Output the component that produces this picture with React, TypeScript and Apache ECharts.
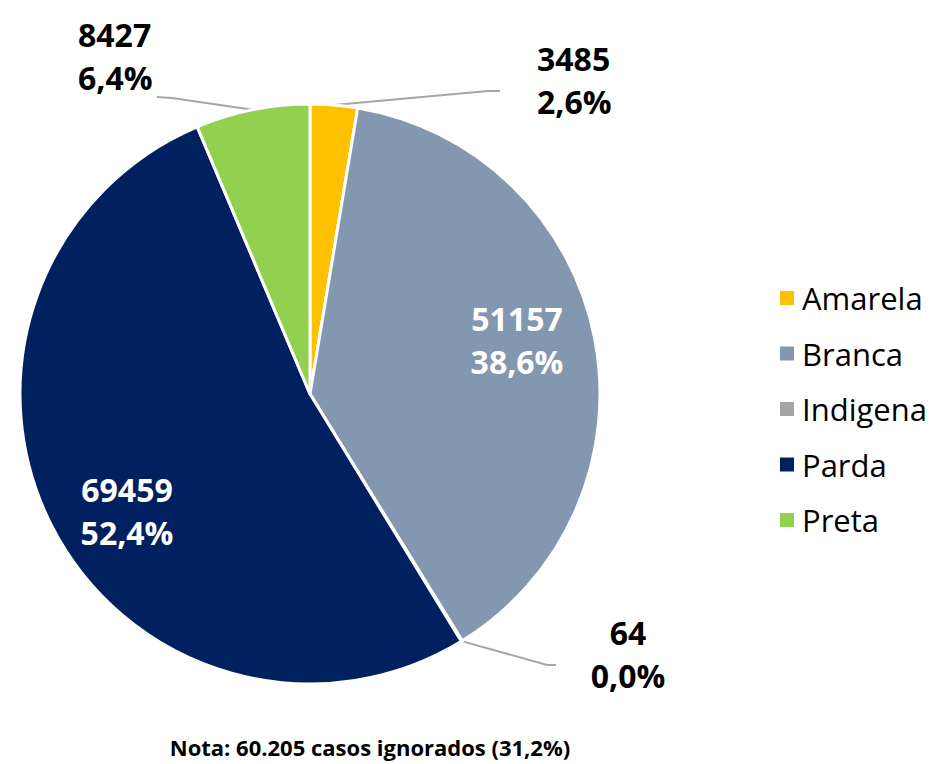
import React, { useEffect, useRef } from "react";
import * as echarts from "echarts";

const categories = ["Amarela", "Branca", "Indigena", "Parda", "Preta"];
const values = [3485, 51157, 64, 69459, 8427];
const colors = ["#FFC000", "#8497B0", "#A5A5A5", "#002060", "#92D050"];
const insideLabels = ["Branca", "Parda"];
const noteText = "Nota: 60.205 casos ignorados (31,2%)";

// label anchor positions and leader-line bends (layout only)
const labelPos: Record<string, { x: number; y: number; align: string; bend?: number[]; end?: number[] }> = {
  Amarela: { x: 537, y: 80, align: "left", bend: [488, 91], end: [500, 91] },
  Branca: { x: 517, y: 340, align: "center" },
  Indigena: { x: 628, y: 654, align: "center", bend: [547, 665], end: [556, 665] },
  Parda: { x: 127, y: 511, align: "center" },
  Preta: { x: 78, y: 56, align: "left", bend: [172, 98], end: [157, 97] },
};

const FONT = "'Open Sans', 'Liberation Sans', sans-serif";

export default function App() {
  const ref = useRef<HTMLDivElement>(null);
  useEffect(() => {
    if (!ref.current) return;
    const chart = echarts.init(ref.current, null, { renderer: "svg" });
    const total = values.reduce((a, b) => a + b, 0);
    const data = categories.map((name, i) => {
      const inside = insideLabels.includes(name);
      return {
        name,
        value: values[i],
        itemStyle: { color: colors[i] },
        label: {
          position: inside ? "inside" : "outside",
          color: inside ? "#FFFFFF" : "#000000",
        },
        labelLine: { show: !inside },
      };
    });
    chart.setOption({
      animation: false,
      backgroundColor: "#FFFFFF",
      legend: {
        orient: "vertical",
        left: 773,
        top: 275,
        itemWidth: 16,
        itemHeight: 16,
        itemGap: 19.5,
        icon: "rect",
        data: categories,
        textStyle: {
          fontFamily: FONT,
          fontSize: 31,
          color: "#000000",
          lineHeight: 36,
          padding: [0, 0, 0, 2],
        },
      },
      title: {
        text: noteText,
        left: 365,
        textAlign: "center",
        top: 731,
        textStyle: {
          fontFamily: FONT,
          fontSize: 22,
          fontWeight: "bold",
          color: "#000000",
        },
      },
      series: [
        {
          type: "pie",
          center: [310, 394],
          radius: [0, 290],
          startAngle: 90,
          clockwise: true,
          data,
          itemStyle: { borderColor: "#FFFFFF", borderWidth: 3 },
          label: {
            show: true,
            fontFamily: FONT,
            fontSize: 32,
            fontWeight: "bold",
            lineHeight: 43,
            formatter: (p: any) =>
              p.value + "\n" + ((p.value / total) * 100).toFixed(1).replace(".", ",") + "%",
          },
          labelLine: {
            show: true,
            length: 20,
            length2: 10,
            lineStyle: { color: "#A6A6A6", width: 2 },
          },
          labelLayout: (params: any) => {
            const name = categories[params.dataIndex];
            const p = labelPos[name];
            const out: any = { x: p.x, y: p.y, align: p.align, verticalAlign: "middle" };
            if (p.bend && params.labelLinePoints && params.labelLinePoints[0]) {
              out.labelLinePoints = [params.labelLinePoints[0], p.bend, p.end];
            }
            return out;
          },
          emphasis: { disabled: true },
        },
      ],
    });
    return () => chart.dispose();
  }, []);
  return (
    <div
      ref={ref}
      style={{ position: "fixed", left: 0, top: 0, width: 933, height: 764 }}
    />
  );
}
